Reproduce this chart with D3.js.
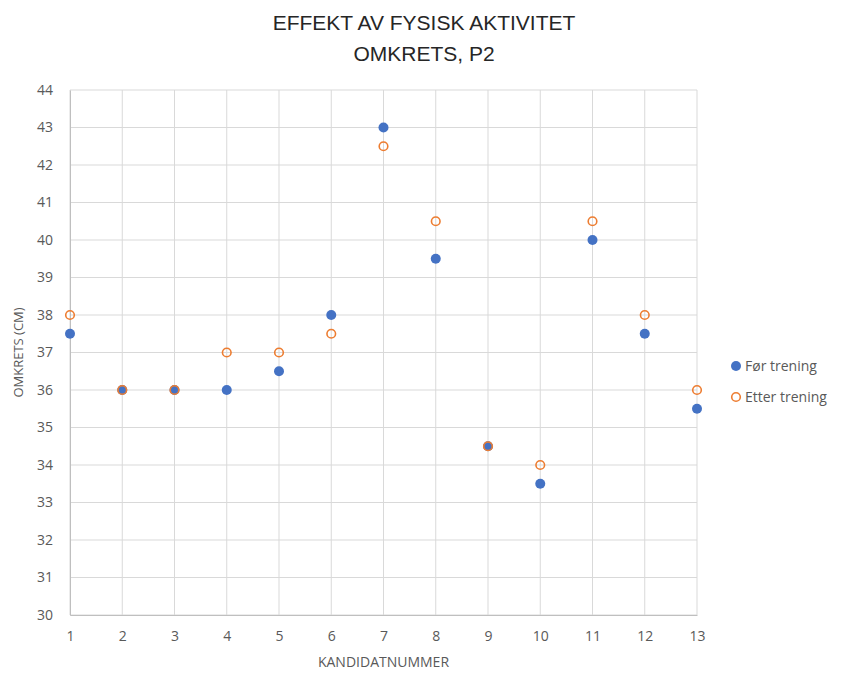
<!DOCTYPE html>
<html>
<head>
<meta charset="utf-8">
<script src="https://cdn.jsdelivr.net/npm/d3@7"></script>
<style>
  body { margin: 0; background: #fff; }
  text { font-family: "Open Sans", "Liberation Sans", sans-serif; fill: #595959; }
  .title { font-family: "Liberation Sans Narrow", "Liberation Sans", sans-serif; fill: #262626; }
</style>
</head>
<body>
<div id="chart"></div>
<script>
// data
var candidates = [1, 2, 3, 4, 5, 6, 7, 8, 9, 10, 11, 12, 13];
var before = [37.5, 36, 36, 36, 36.5, 38, 43, 39.5, 34.5, 33.5, 40, 37.5, 35.5];
var after = [38, 36, 36, 37, 37, 37.5, 42.5, 40.5, 34.5, 34, 40.5, 38, 36];
var yTicks = [30, 31, 32, 33, 34, 35, 36, 37, 38, 39, 40, 41, 42, 43, 44];
var seriesNames = ["Før trening", "Etter trening"];

var svgWidth = 846;
var svgHeight = 674;
var margin = { top: 90, right: 149, bottom: 59, left: 70 };
var width = svgWidth - margin.left - margin.right;
var height = svgHeight - margin.top - margin.bottom;

var blue = "#4472C4";
var orange = "#ED7D31";

var svg = d3.select("#chart")
    .append("svg")
    .attr("width", svgWidth)
    .attr("height", svgHeight);

var chartGroup = svg.append("g")
    .attr("transform", `translate(${margin.left}, ${margin.top})`);

var xScale = d3.scaleLinear().domain([1, 13]).range([0, width]);
var yScale = d3.scaleLinear().domain([30, 44]).range([height, 0]);

// gridlines
chartGroup.append("g")
    .selectAll("line.h")
    .data(yTicks)
    .enter()
    .append("line")
    .attr("x1", 0).attr("x2", width)
    .attr("y1", d => yScale(d)).attr("y2", d => yScale(d))
    .attr("stroke", "#d9d9d9").attr("stroke-width", 1);

chartGroup.append("g")
    .selectAll("line.v")
    .data(candidates)
    .enter()
    .append("line")
    .attr("y1", 0).attr("y2", height)
    .attr("x1", d => xScale(d)).attr("x2", d => xScale(d))
    .attr("stroke", "#d9d9d9").attr("stroke-width", 1);

// axes
var bottomAxis = d3.axisBottom(xScale).tickValues(candidates).tickSize(0).tickPadding(16);
var leftAxis = d3.axisLeft(yScale).tickValues(yTicks).tickSize(0).tickPadding(17);

var xAxisG = chartGroup.append("g")
    .attr("transform", `translate(0, ${height})`)
    .call(bottomAxis);
var yAxisG = chartGroup.append("g").call(leftAxis);

[xAxisG, yAxisG].forEach(function (g) {
    g.select(".domain").attr("stroke", "#bfbfbf");
    g.selectAll("text")
        .style("font-size", "14px")
        .style("font-family", "'Open Sans', sans-serif")
        .attr("fill", "#404040");
});

// points
chartGroup.append("g")
    .selectAll("circle")
    .data(candidates)
    .enter()
    .append("circle")
    .attr("cx", d => xScale(d))
    .attr("cy", (d, i) => yScale(before[i]))
    .attr("r", 5)
    .attr("fill", blue);

chartGroup.append("g")
    .selectAll("circle")
    .data(candidates)
    .enter()
    .append("circle")
    .attr("cx", d => xScale(d))
    .attr("cy", (d, i) => yScale(after[i]))
    .attr("r", 4.3)
    .attr("fill", "none")
    .attr("stroke", orange)
    .attr("stroke-width", 1.6);

// titles
svg.append("text")
    .attr("class", "title")
    .attr("x", 424).attr("y", 30)
    .attr("text-anchor", "middle")
    .style("font-size", "21px")
    .text("EFFEKT AV FYSISK AKTIVITET");

svg.append("text")
    .attr("class", "title")
    .attr("x", 424).attr("y", 61)
    .attr("text-anchor", "middle")
    .style("font-size", "21px")
    .text("OMKRETS, P2");

svg.append("text")
    .attr("transform", "rotate(-90)")
    .attr("x", -(margin.top + height / 2))
    .attr("y", 23)
    .attr("text-anchor", "middle")
    .style("font-size", "13px")
    .attr("fill", "#404040")
    .text("OMKRETS (CM)");

svg.append("text")
    .attr("x", margin.left + width / 2)
    .attr("y", 667)
    .attr("text-anchor", "middle")
    .style("font-size", "14px")
    .attr("fill", "#404040")
    .text("KANDIDATNUMMER");

// legend
var legend = svg.append("g").attr("transform", "translate(736, 366)");
seriesNames.forEach(function (name, i) {
    var row = legend.append("g").attr("transform", `translate(0, ${i * 31})`);
    if (i === 0) {
        row.append("circle").attr("r", 5).attr("fill", blue);
    } else {
        row.append("circle").attr("r", 4.3).attr("fill", "none")
            .attr("stroke", orange).attr("stroke-width", 1.6);
    }
    row.append("text")
        .attr("x", 9).attr("y", 5)
        .style("font-size", "14px")
        .attr("fill", "#595959")
        .text(name);
});
</script>
</body>
</html>
